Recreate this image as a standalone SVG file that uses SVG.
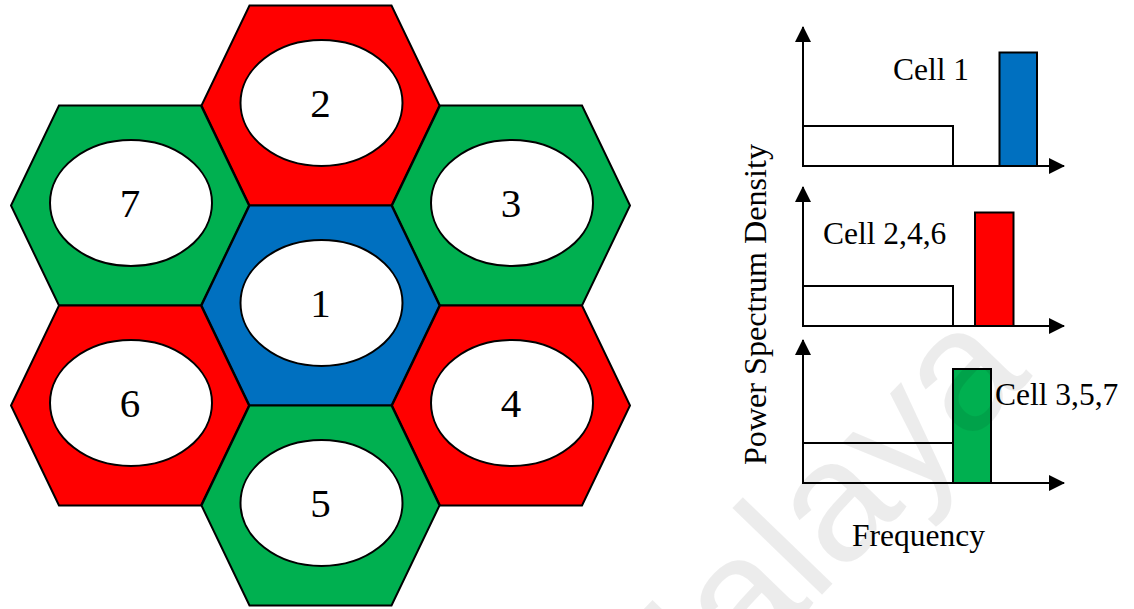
<svg xmlns="http://www.w3.org/2000/svg" xmlns:xlink="http://www.w3.org/1999/xlink" width="1134" height="609" viewBox="0 0 1134 609">
  <style>
    .hex { stroke: #000; stroke-width: 2; stroke-linejoin: miter; }
    .red { fill: #FF0000; }
    .green { fill: #00B050; }
    .blue { fill: #0070C0; }
    .hole { fill: #fff; stroke: #000; stroke-width: 2; }
    .num { font-family: "Liberation Serif", "Times New Roman", serif; font-size: 41px; text-anchor: middle; fill: #000; }
    .lbl { font-family: "Liberation Serif", "Times New Roman", serif; font-size: 31.5px; fill: #000; }
    .axis { stroke: #000; stroke-width: 2; fill: none; }
    .band { fill: #fff; stroke: #000; stroke-width: 2; }
    .bar { stroke: #000; stroke-width: 2; }
    .mark { font-family: "Liberation Sans", Arial, sans-serif; font-size: 172px; fill: #000; fill-opacity: 0.075; }
  </style>
  <defs>
    <!-- flattened hexagon cell, centred on the origin -->
    <polygon id="cellShape" points="-71,-100 71,-100 119,0 71,100 -71,100 -119,0"/>
    <marker id="arrow" markerUnits="userSpaceOnUse" markerWidth="16" markerHeight="16" viewBox="0 0 16 16" refX="15" refY="8" orient="auto">
      <path d="M0,0 L16,8 L0,16 Z" fill="#000"/>
    </marker>
  </defs>

  <rect width="1134" height="609" fill="#fff"/>

  <!-- cluster of seven cells -->
  <g id="cell-2">
    <use xlink:href="#cellShape" class="hex red" x="320.5" y="105.5"/>
    <ellipse class="hole" cx="321.5" cy="103" rx="81" ry="63"/>
    <text class="num" x="320.5" y="117">2</text>
  </g>
  <g id="cell-7">
    <use xlink:href="#cellShape" class="hex green" x="130" y="205.5"/>
    <ellipse class="hole" cx="131" cy="203" rx="81" ry="63"/>
    <text class="num" x="130" y="217">7</text>
  </g>
  <g id="cell-3">
    <use xlink:href="#cellShape" class="hex green" x="511" y="205.5"/>
    <ellipse class="hole" cx="512" cy="203" rx="81" ry="63"/>
    <text class="num" x="511" y="217">3</text>
  </g>
  <g id="cell-1">
    <use xlink:href="#cellShape" class="hex blue" x="320.5" y="305.5"/>
    <ellipse class="hole" cx="321.5" cy="303" rx="81" ry="63"/>
    <text class="num" x="320.5" y="317">1</text>
  </g>
  <g id="cell-6">
    <use xlink:href="#cellShape" class="hex red" x="130" y="405.5"/>
    <ellipse class="hole" cx="131" cy="403" rx="81" ry="63"/>
    <text class="num" x="130" y="417">6</text>
  </g>
  <g id="cell-4">
    <use xlink:href="#cellShape" class="hex red" x="511" y="405.5"/>
    <ellipse class="hole" cx="512" cy="403" rx="81" ry="63"/>
    <text class="num" x="511" y="417">4</text>
  </g>
  <g id="cell-5">
    <use xlink:href="#cellShape" class="hex green" x="320.5" y="505.5"/>
    <ellipse class="hole" cx="321.5" cy="503" rx="81" ry="63"/>
    <text class="num" x="320.5" y="517">5</text>
  </g>

  <!-- spectrum plots -->
  <g id="spectrum-1">
    <rect class="band" x="803" y="126" width="150" height="40"/>
    <rect class="bar blue" x="999.5" y="52.5" width="37.5" height="113.5"/>
    <text class="lbl" x="893" y="80">Cell 1</text>
  </g>
  <g id="spectrum-2">
    <rect class="band" x="803" y="286" width="150" height="40"/>
    <rect class="bar red" x="975" y="212.5" width="38.5" height="113.5"/>
    <text class="lbl" x="823" y="244">Cell 2,4,6</text>
  </g>
  <g id="spectrum-3">
    <rect class="band" x="803" y="443" width="150" height="40" stroke-width="1.4"/>
    <rect class="bar green" x="953" y="369" width="38" height="114"/>
    <text class="lbl" x="995" y="405">Cell 3,5,7</text>
  </g>

  <g id="axes">
    <path class="axis" d="M803,166 V27" marker-end="url(#arrow)"/>
    <path class="axis" d="M803,166 H1064" marker-end="url(#arrow)"/>
    <path class="axis" d="M803,326 V187" marker-end="url(#arrow)"/>
    <path class="axis" d="M803,326 H1064" marker-end="url(#arrow)"/>
    <path class="axis" d="M803,483 V340" marker-end="url(#arrow)"/>
    <path class="axis" d="M803,483 H1064" marker-end="url(#arrow)"/>
  </g>

  <g id="axis-titles">
    <text class="lbl" transform="translate(766,465) rotate(-90)" textLength="321" lengthAdjust="spacingAndGlyphs">Power Spectrum Density</text>
    <text class="lbl" x="852" y="546">Frequency</text>
  </g>

  <!-- faint watermark lettering -->
  <text class="mark" transform="translate(648,775) rotate(-46)">Malaya</text>
</svg>
